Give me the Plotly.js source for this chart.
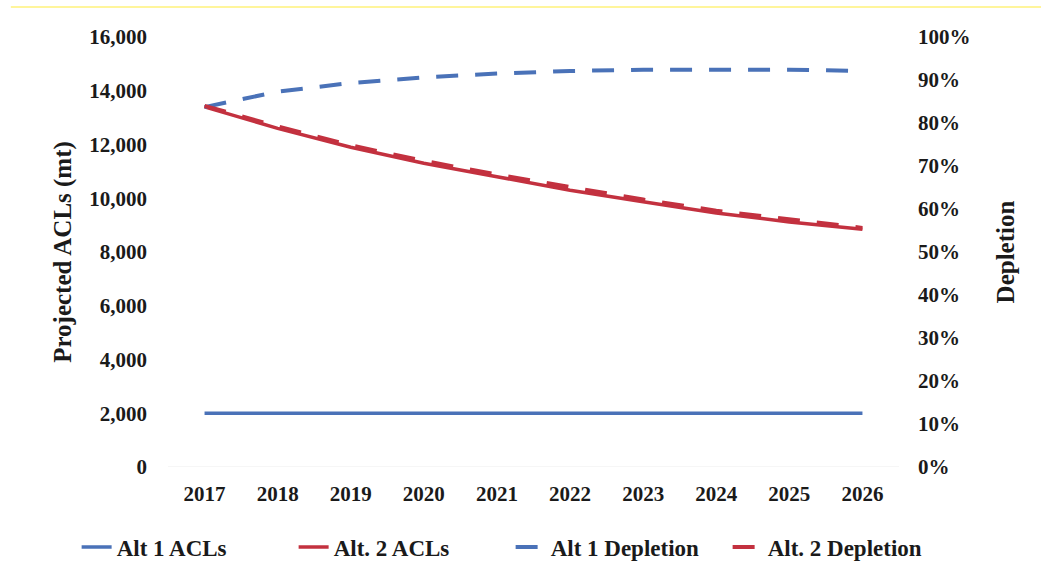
<!DOCTYPE html>
<html>
<head>
<meta charset="utf-8">
<script src="https://cdn.plot.ly/plotly-3.0.1.min.js"></script>
<style>html,body{margin:0;padding:0;background:#fff;}#chart{width:1041px;height:579px;}</style>
</head>
<body>
<div id="chart"></div>
<script>
const years = ['2017','2018','2019','2020','2021','2022','2023','2024','2025','2026'];
const alt1ACLs = [2000,2000,2000,2000,2000,2000,2000,2000,2000,2000];
const alt2ACLs = [13400,12600,11900,11300,10800,10300,9870,9450,9120,8850];
const alt1Depletion = [0.837,0.873,0.893,0.906,0.915,0.921,0.924,0.925,0.924,0.921];
const alt2Depletion = [0.840,0.792,0.748,0.712,0.680,0.650,0.622,0.596,0.575,0.556];

const blue = '#4A72B8';
const red = '#C3313F';
const fam = '"Liberation Serif", "Times New Roman", serif';

const traces = [
  {x: years, y: alt1ACLs, name: 'Alt 1 ACLs', type: 'scatter', mode: 'lines',
   line: {color: blue, width: 3.5}, yaxis: 'y'},
  {x: years, y: alt2ACLs, name: 'Alt. 2 ACLs', type: 'scatter', mode: 'lines',
   line: {color: red, width: 3.5}, yaxis: 'y'},
  {x: years, y: alt1Depletion, name: 'Alt 1 Depletion', type: 'scatter', mode: 'lines',
   line: {color: blue, width: 4, dash: '22px,17px'}, yaxis: 'y2'},
  {x: years, y: alt2Depletion, name: 'Alt. 2 Depletion', type: 'scatter', mode: 'lines',
   line: {color: red, width: 4, dash: '22px,17px'}, yaxis: 'y2'}
];

const tickFont = {family: fam, size: 21, weight: 'bold', color: '#1a1a1a'};

const layout = {
  width: 1041, height: 579,
  paper_bgcolor: '#ffffff', plot_bgcolor: '#ffffff',
  margin: {l: 168, r: 142, t: 37, b: 112, autoexpand: false},
  font: {family: fam, color: '#1a1a1a', size: 15},
  showlegend: true,
  legend: {orientation: 'h', x: -0.125, xanchor: 'left', y: -0.136, yanchor: 'top',
           font: {family: fam, size: 23, color: '#1a1a1a', weight: 'bold'},
           entrywidth: 172, entrywidthmode: 'pixels'},
  xaxis: {type: 'category', range: [-0.5, 9.5], showgrid: false, zeroline: false, showline: false,
          ticks: '', tickfont: tickFont, ticklabelstandoff: 12},
  yaxis: {range: [0, 16000], dtick: 2000, tickformat: ',', showgrid: false, zeroline: false,
          showline: false, ticks: '', tickfont: tickFont, ticklabelstandoff: 20,
          title: {text: 'Projected ACLs (mt)', standoff: 10,
                  font: {family: fam, size: 25, weight: 'bold', color: '#1a1a1a'}}},
  yaxis2: {range: [0, 1], dtick: 0.1, tickformat: '.0%', overlaying: 'y', side: 'right',
           showgrid: false, zeroline: false, showline: false, ticks: '',
           tickfont: tickFont, ticklabelstandoff: 18,
           title: {text: 'Depletion', standoff: 26,
                   font: {family: fam, size: 25, weight: 'bold', color: '#1a1a1a'}}},
  shapes: [
    {type: 'line', xref: 'paper', yref: 'y', x0: 0, x1: 1, y0: 0, y1: 0,
     line: {color: '#ececec', width: 1}},
    {type: 'line', xref: 'paper', yref: 'paper', x0: -0.215, x1: 1.2, y0: 1.07, y1: 1.07,
     line: {color: '#fff27a', width: 1.5}}
  ]
};

Plotly.newPlot('chart', traces, layout, {displayModeBar: false, staticPlot: true});
</script>
</body>
</html>
